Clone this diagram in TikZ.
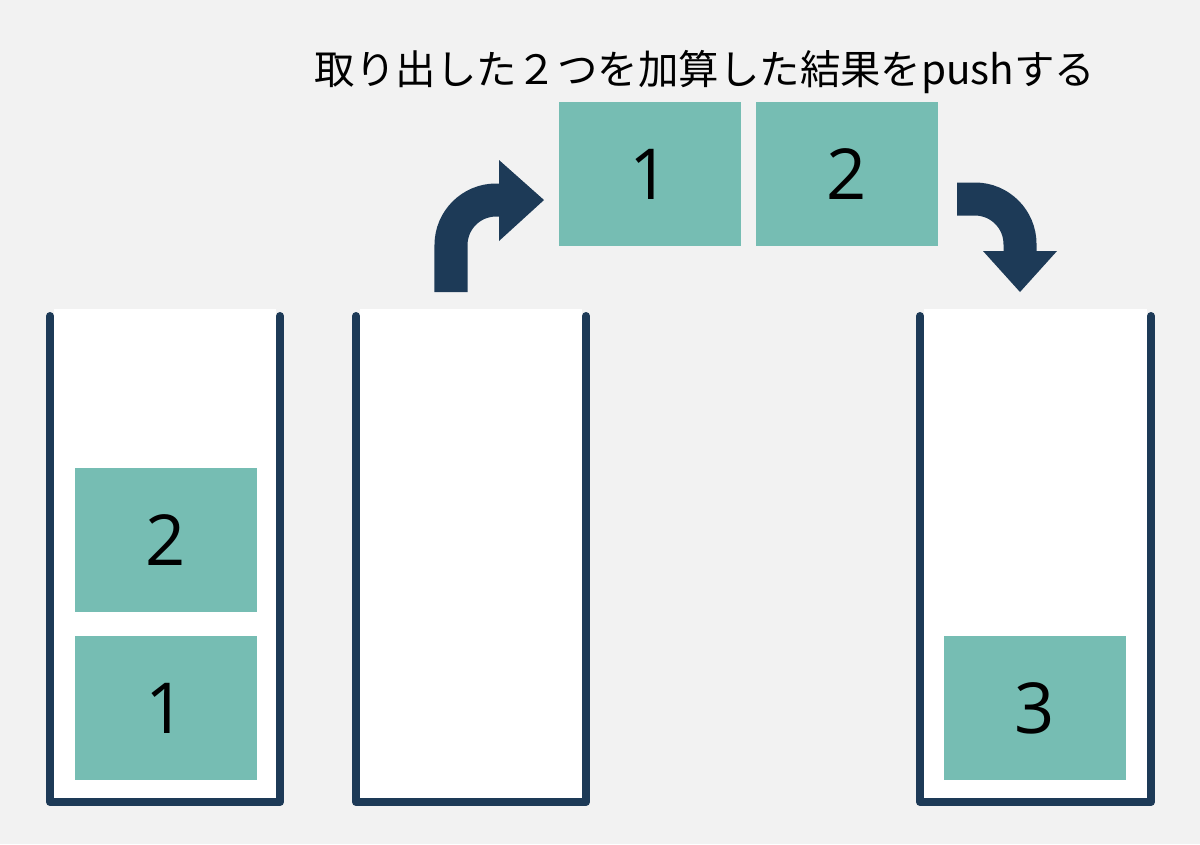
\documentclass[tikz,border=0pt]{standalone}
\usepackage{fontspec}
\setmainfont{Open Sans}
\newfontfamily\jpfont{Noto Sans CJK JP}
\definecolor{navy}{HTML}{1D3A57}
\definecolor{cardteal}{HTML}{76BDB3}
\definecolor{paper}{HTML}{F2F2F2}

\begin{document}
\begin{tikzpicture}[x=0.01cm,y=-0.01cm,
  card/.style={fill=cardteal, minimum width=1.82cm, minimum height=1.43cm, inner sep=0pt, font=\fontsize{20}{24}\selectfont},
  wall/.style={draw=navy, line width=0.08cm, line cap=round, line join=round},
  turnarrow/.style={draw=navy, line width=0.33cm, rounded corners=0.45cm}]
\fill[paper] (0,0) rectangle (1200,844);
\useasboundingbox (0,0) rectangle (1200,844);
% three stacks
\foreach \xl/\xr in {50/280, 356/586, 920/1151} {
  \fill[white] (\xl+4,309) rectangle (\xr-4,798);
  \draw[wall] (\xl,316) -- (\xl,802) -- (\xr,802) -- (\xr,316);
}
% values in the stacks
\node[card] (left2) at (166,540) {2};
\node[card] (left1) at (166,708) {1};
\node[card] (right3) at (1035,708) {3};
% popped values
\node[card] (pop1) at (650,174) {1};
\node[card] (pop2) at (847,174) {2};
\node[font=\jpfont\fontsize{11.5}{14}\selectfont] (title) at (705,72) {取り出した２つを加算した結果をpushする};
% pop arrow
\draw[turnarrow] (451,292) |- (501,200);
\fill[navy] (499,160) -- (544,200) -- (499,241) -- cycle;
% push arrow
\draw[turnarrow] (957,199) -| (1020,253);
\fill[navy] (983,251) -- (1057,251) -- (1020,292) -- cycle;
\end{tikzpicture}
\end{document}
